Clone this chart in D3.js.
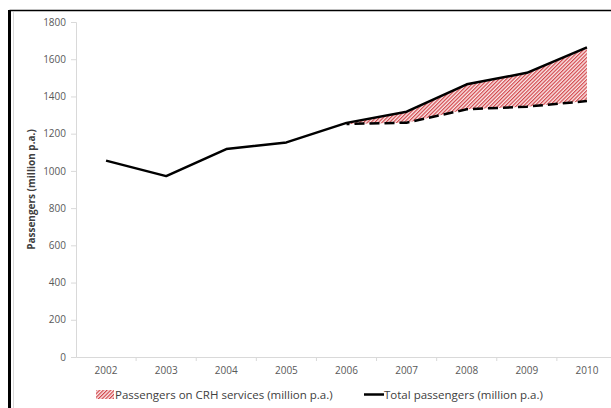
<!DOCTYPE html>
<html>
<head>
<meta charset="utf-8">
<script src="https://cdn.jsdelivr.net/npm/d3@7"></script>
<style>
  html, body { margin: 0; padding: 0; background: #fff; }
  svg { display: block; }
</style>
</head>
<body>
<svg id="chart" width="611" height="408"></svg>
<script>
// Passenger volumes on the network, million per annum
const years = ["2002", "2003", "2004", "2005", "2006", "2007", "2008", "2009", "2010"];
const totalPassengers = [1055, 972, 1117, 1153, 1258, 1318, 1465, 1527, 1664];
// Total minus CRH services (lower edge of the CRH band), from 2006 on
const crhYears = ["2006", "2007", "2008", "2009", "2010"];
const nonCrhPassengers = [1252, 1259, 1331, 1345, 1375];
const yTicks = [0, 200, 400, 600, 800, 1000, 1200, 1400, 1600, 1800];
const legendLabels = ["Passengers on CRH services (million p.a.)", "Total passengers (million p.a.)"];
const yTitle = "Passengers (million p.a.)";

const svg = d3.select("#chart");
const font = "'Open Sans', 'Liberation Sans', sans-serif";
const plotLeft = 76, plotTop = 22, plotBottom = 357, plotRight = 617;

const x = d3.scaleBand().domain(years).range([plotLeft, plotRight]);
const y = d3.scaleLinear().domain([0, 1800]).range([plotBottom, plotTop]);
const cx = d => x(d) + x.bandwidth() / 2;

// Hatch pattern for the CRH band
const defs = svg.append("defs");
const step = 2.6;
const pat = defs.append("pattern")
  .attr("id", "hatch").attr("patternUnits", "userSpaceOnUse")
  .attr("width", step).attr("height", step)
  .attr("patternTransform", "rotate(45)");
pat.append("rect").attr("width", step).attr("height", step).attr("fill", "#fbeaea");
pat.append("rect").attr("x", 0).attr("y", 0).attr("width", 1.2).attr("height", step)
  .attr("fill", "#d2454a");

// Frame
svg.append("line").attr("x1", 9.5).attr("x2", 611).attr("y1", 10.5).attr("y2", 10.5)
  .attr("stroke", "#000").attr("stroke-width", 1.5);
svg.append("line").attr("x1", 9.5).attr("x2", 9.5).attr("y1", 10).attr("y2", 408)
  .attr("stroke", "#000").attr("stroke-width", 3);
svg.append("line").attr("x1", 13.5).attr("x2", 13.5).attr("y1", 12).attr("y2", 408)
  .attr("stroke", "#d9d9d9").attr("stroke-width", 1);

// Y axis
const yAxis = svg.append("g").attr("transform", `translate(${plotLeft},0)`)
  .call(d3.axisLeft(y).tickValues(yTicks).tickFormat(d3.format("d")).tickSize(5).tickPadding(5));
yAxis.select(".domain").attr("stroke", "#d9d9d9");
yAxis.selectAll(".tick line").attr("stroke", "#d9d9d9");
yAxis.selectAll(".tick text").attr("fill", "#595959")
  .style("font-family", font).style("font-size", "10px");

// X axis, ticks between categories
const xAxis = svg.append("g").attr("transform", `translate(0,${plotBottom})`)
  .call(d3.axisBottom(x).tickSize(0).tickPadding(10));
xAxis.select(".domain").attr("stroke", "#d9d9d9");
xAxis.selectAll(".tick text").attr("fill", "#595959")
  .style("font-family", font).style("font-size", "10px");
svg.append("g").selectAll("line").data(years.slice(1)).join("line")
  .attr("x1", d => x(d)).attr("x2", d => x(d))
  .attr("y1", plotBottom).attr("y2", plotBottom + 4)
  .attr("stroke", "#d9d9d9");

// Y axis title
svg.append("text")
  .attr("transform", `translate(35,${(plotTop + plotBottom) / 2}) rotate(-90)`)
  .attr("text-anchor", "middle")
  .style("font-family", font).style("font-size", "10px").style("font-weight", "bold")
  .attr("fill", "#404040")
  .text(yTitle);

// CRH band between total and non-CRH lines
const crhData = crhYears.map((yr, i) => ({
  yr, lo: nonCrhPassengers[i], hi: totalPassengers[years.indexOf(yr)]
}));
svg.append("path").datum(crhData)
  .attr("d", d3.area().x(d => cx(d.yr)).y0(d => y(d.lo)).y1(d => y(d.hi)))
  .attr("fill", "url(#hatch)");

// Non-CRH dashed line
svg.append("path").datum(crhData)
  .attr("d", d3.line().x(d => cx(d.yr)).y(d => y(d.lo)))
  .attr("fill", "none").attr("stroke", "#000").attr("stroke-width", 2.5)
  .attr("stroke-dasharray", "10,5").attr("stroke-dashoffset", -8);

// Total passengers line
svg.append("path").datum(years.map((yr, i) => ({ yr, v: totalPassengers[i] })))
  .attr("d", d3.line().x(d => cx(d.yr)).y(d => y(d.v)))
  .attr("fill", "none").attr("stroke", "#000").attr("stroke-width", 2.5)
  .attr("stroke-linejoin", "round");

// Legend
const lg = svg.append("g").style("font-family", font).style("font-size", "11.5px");
lg.append("rect").attr("x", 96).attr("y", 390).attr("width", 18).attr("height", 9)
  .attr("fill", "url(#hatch)");
lg.append("text").attr("x", 115).attr("y", 399).attr("fill", "#404040").text(legendLabels[0]);
lg.append("line").attr("x1", 364).attr("x2", 384).attr("y1", 394.5).attr("y2", 394.5)
  .attr("stroke", "#000").attr("stroke-width", 2.5);
lg.append("text").attr("x", 384).attr("y", 399).attr("fill", "#404040").text(legendLabels[1]);
</script>
</body>
</html>
